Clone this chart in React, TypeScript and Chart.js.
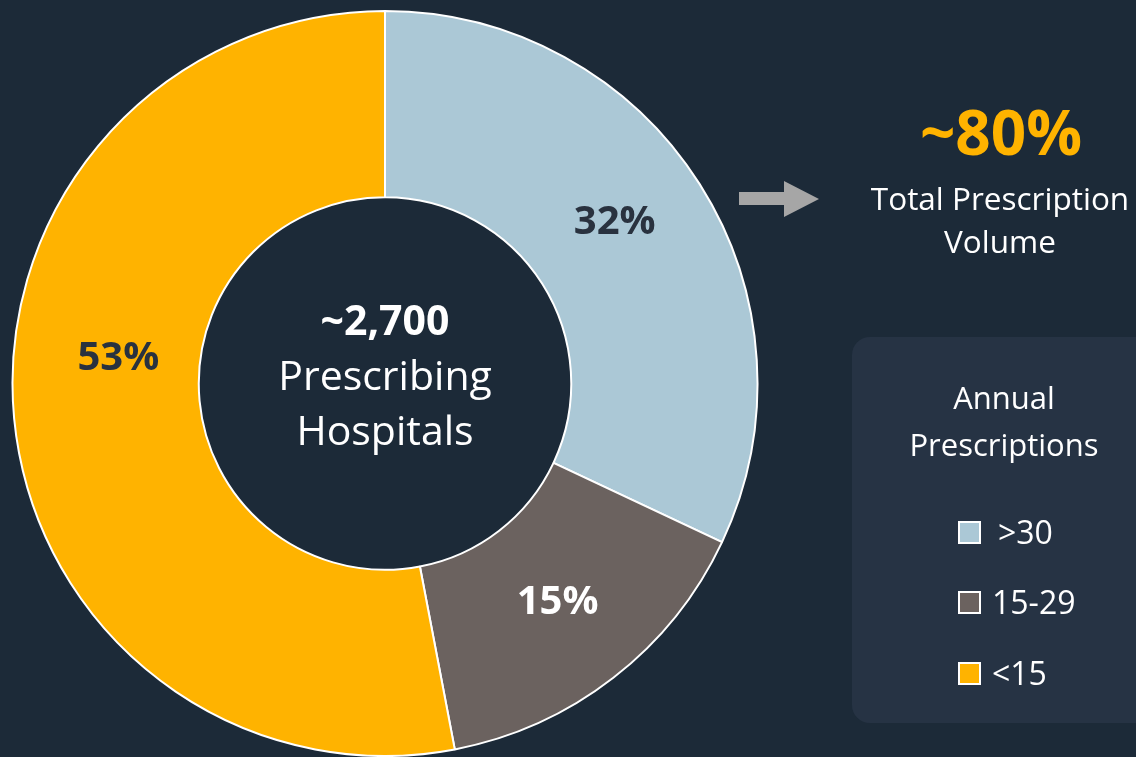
import React, { useEffect, useRef } from "react";
import { Chart, registerables } from "chart.js";

Chart.register(...registerables);

// ---- data ----
const categories = [">30", "15-29", "<15"];
const shares = [32, 15, 53];
const sliceColors = ["#abc8d6", "#6b625f", "#ffb300"];
const sliceLabelColors = ["#29323f", "#ffffff", "#29323f"];
const centerTitle = "~2,700";
const centerLines = ["Prescribing", "Hospitals"];
const headline = "~80%";
const headlineLines = ["Total Prescription", "Volume"];
const legendTitleLines = ["Annual", "Prescriptions"];

const BG = "#1c2a38";
const FONT = "'Open Sans', 'Noto Sans', sans-serif";

// label placement along each arc (fraction of the arc's sweep, fraction of mid radius)
const labelSweepFrac = [0.473, 0.485, 0.56];
const labelRadiusFrac = [1.01, 0.99, 0.96];

const labelPlugin = {
  id: "donutLabels",
  afterDatasetsDraw(chart: any) {
    const ctx = chart.ctx as CanvasRenderingContext2D;
    const arcs = chart.getDatasetMeta(0).data;
    if (!arcs.length) return;
    ctx.save();
    ctx.textAlign = "center";
    ctx.textBaseline = "alphabetic";
    arcs.forEach((arc: any, i: number) => {
      const p = arc.getProps(["x", "y", "startAngle", "endAngle", "innerRadius", "outerRadius"], true);
      const a = p.startAngle + labelSweepFrac[i] * (p.endAngle - p.startAngle);
      const r = ((p.innerRadius + p.outerRadius) / 2) * labelRadiusFrac[i];
      const fs = 40;
      ctx.font = `bold ${fs}px ${FONT}`;
      ctx.fillStyle = sliceLabelColors[i];
      ctx.fillText(`${shares[i]}%`, p.x + Math.cos(a) * r, p.y + Math.sin(a) * r + fs * 0.36);
    });
    const c = arcs[0].getProps(["x", "y"], true);
    ctx.fillStyle = "#ffffff";
    ctx.font = `bold 41px ${FONT}`;
    ctx.fillText(centerTitle, c.x, c.y - 49);
    ctx.font = `41px ${FONT}`;
    ctx.fillText(centerLines[0], c.x, c.y + 6);
    ctx.fillText(centerLines[1], c.x, c.y + 61);
    ctx.restore();
  },
};

function DonutChart() {
  const ref = useRef<HTMLCanvasElement | null>(null);
  useEffect(() => {
    if (!ref.current) return;
    const chart = new Chart(ref.current, {
      type: "doughnut",
      data: {
        labels: categories,
        datasets: [
          {
            data: shares,
            backgroundColor: sliceColors,
            borderColor: "#ffffff",
            borderWidth: 2,
          },
        ],
      },
      options: {
        animation: false,
        responsive: false,
        cutout: "50%",
        layout: { padding: { top: 10, bottom: 0, left: 11, right: 11 } },
        plugins: { legend: { display: false }, tooltip: { enabled: false } },
      },
      plugins: [labelPlugin],
    });
    return () => chart.destroy();
  }, []);
  return <canvas ref={ref} width={770} height={757} style={{ position: "absolute", left: 0, top: 0 }} />;
}

export default function App() {
  const legendY = [532, 602, 673];
  return (
    <div style={{ position: "absolute", left: 0, top: 0, width: 1136, height: 757, background: BG, overflow: "hidden" }}>
      <DonutChart />
      <svg width={1136} height={757} style={{ position: "absolute", left: 0, top: 0 }}>
        {/* arrow */}
        <polygon points="739,192 784,192 784,181 819,199 784,217 784,205 739,205" fill="#a6a6a6" />
        <text x={1001} y={155} textAnchor="middle" fill="#ffb300" fontFamily={FONT} fontWeight="bold" fontSize={62}>
          {headline}
        </text>
        <text x={1000} y={210} textAnchor="middle" fill="#ffffff" fontFamily={FONT} fontSize={31.5}>
          {headlineLines[0]}
        </text>
        <text x={1000} y={253} textAnchor="middle" fill="#ffffff" fontFamily={FONT} fontSize={31.5}>
          {headlineLines[1]}
        </text>
        {/* legend box */}
        <rect x={852} y={337} width={320} height={386} rx={18} ry={18} fill="#263344" />
        <text x={1004} y={409} textAnchor="middle" fill="#ffffff" fontFamily={FONT} fontSize={31}>
          {legendTitleLines[0]}
        </text>
        <text x={1004} y={456} textAnchor="middle" fill="#ffffff" fontFamily={FONT} fontSize={31}>
          {legendTitleLines[1]}
        </text>
        {categories.map((c, i) => (
          <g key={c}>
            <rect x={959} y={legendY[i] - 10} width={21} height={21} fill={sliceColors[i]} stroke="#ffffff" strokeWidth={2} />
            <text x={i === 0 ? 998 : 992} y={legendY[i] + 12} fill="#ffffff" fontFamily={FONT} fontSize={32}>
              {c}
            </text>
          </g>
        ))}
      </svg>
    </div>
  );
}
